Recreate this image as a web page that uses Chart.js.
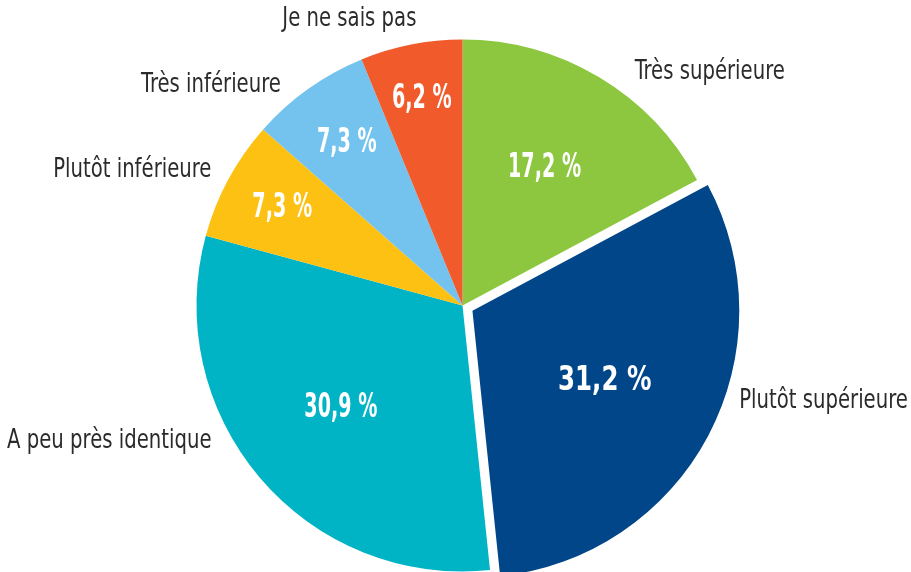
<!DOCTYPE html>
<html>
<head>
<meta charset="utf-8">
<script src="https://cdn.jsdelivr.net/npm/chart.js@4/dist/chart.umd.min.js"></script>
<style>
  html, body { margin: 0; padding: 0; background: #fff; overflow: hidden; }
  #wrap { position: absolute; left: 0; top: 0; width: 911px; height: 600px; }
</style>
</head>
<body>
<div id="wrap"><canvas id="pieChart" width="911" height="600"></canvas></div>
<script>
// data, clockwise from 12 o'clock
const categories = ["Très supérieure", "Plutôt supérieure", "A peu près identique", "Plutôt inférieure", "Très inférieure", "Je ne sais pas"];
const shares = [17.2, 31.2, 30.9, 7.3, 7.3, 6.2];
const sliceColors = ["#8dc63f", "#004689", "#00b3c5", "#fdc114", "#74c3ee", "#f15a2b"];

const FONT = "'Liberation Sans Narrow', 'DejaVu Sans Condensed', sans-serif";

// label placement tweaks (inner radius factor, outer angle shift in degrees, outer radius factor)
const innerR = [0.60, 0.56, 0.60, 0.77, 0.75, 0.79];
const outerShift = [5.5, -9, 12, 0, -4, 2];
const outerR = [1.09, 1.10, 1.072, 1.072, 1.075, 1.09];

// same shift Chart.js applies to an offset arc
function arcShift(opt, start, end) {
  const off = (opt || 0) / 4;
  const fix = 1 - Math.sin(Math.min(Math.PI, end - start));
  return off + off * fix;
}

function drawText(ctx, txt, x, y, sx) {
  ctx.save();
  ctx.translate(x, y);
  ctx.scale(sx, 1);
  ctx.fillText(txt, 0, 0);
  ctx.restore();
}

const labelPlugin = {
  id: "sliceLabels",
  afterDatasetsDraw(chart) {
    const { ctx } = chart;
    const meta = chart.getDatasetMeta(0);
    const offsets = chart.data.datasets[0].offset;
    meta.data.forEach((arc, i) => {
      const p = arc.getProps(["x", "y", "startAngle", "endAngle", "outerRadius"], true);
      const mid = (p.startAngle + p.endAngle) / 2;
      const sh = arcShift(offsets[i], p.startAngle, p.endAngle);
      const cx = p.x + Math.cos(mid) * sh;
      const cy = p.y + Math.sin(mid) * sh;
      const R = p.outerRadius;

      // percentage inside the slice
      const big = i === 1;
      ctx.save();
      ctx.fillStyle = "#ffffff";
      ctx.textAlign = "center";
      ctx.textBaseline = "middle";
      ctx.font = "bold " + (big ? 34 : 33) + "px " + FONT;
      const tx = cx + Math.cos(mid) * R * innerR[i];
      const ty = cy + Math.sin(mid) * R * innerR[i];
      drawText(ctx, shares[i].toFixed(1).replace(".", ",") + " %", tx, ty, big ? 0.8 : 0.645);
      ctx.restore();

      // category name outside
      const a = mid + outerShift[i] * Math.PI / 180;
      const ox = p.x + Math.cos(a) * R * outerR[i];
      const oy = p.y + Math.sin(a) * R * outerR[i];
      ctx.save();
      ctx.fillStyle = "#2b2b2b";
      ctx.textBaseline = "middle";
      ctx.textAlign = Math.cos(a) >= 0 ? "left" : "right";
      ctx.font = "27px " + FONT;
      drawText(ctx, chart.data.labels[i], ox, oy, 0.81);
      ctx.restore();
    });
  }
};

new Chart(document.getElementById("pieChart"), {
  type: "pie",
  data: {
    labels: categories,
    datasets: [{
      data: shares,
      backgroundColor: sliceColors,
      borderWidth: 0,
      offset: [0, 45, 0, 0, 0, 0]
    }]
  },
  options: {
    responsive: false,
    animation: false,
    layout: { padding: { top: 17, bottom: 6, left: 174, right: 160 } },
    plugins: {
      legend: { display: false },
      tooltip: { enabled: false }
    }
  },
  plugins: [labelPlugin]
});
</script>
</body>
</html>
